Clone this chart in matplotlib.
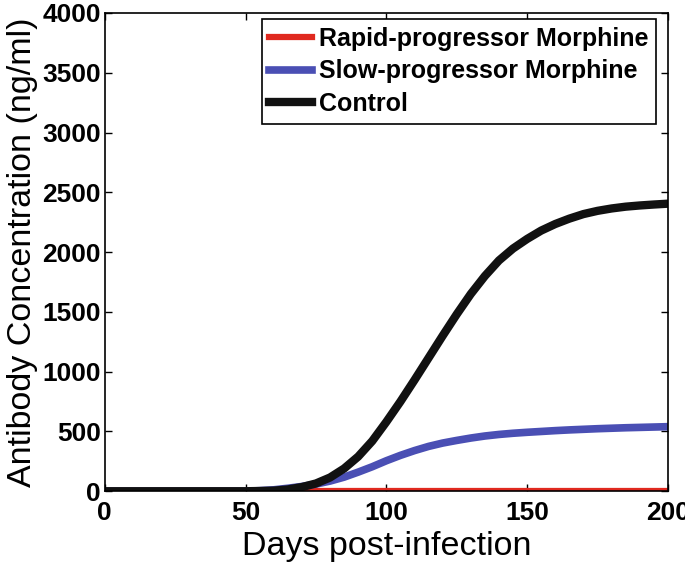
import numpy as np
import matplotlib
matplotlib.use('Agg')
import matplotlib.pyplot as plt

plt.rcParams['font.family'] = ['Liberation Sans', 'DejaVu Sans']

# Days post-infection
days = [0, 50, 55, 60, 65, 70, 75, 80, 85, 90, 95, 100, 105, 110, 115, 120, 125,
        130, 135, 140, 145, 150, 155, 160, 165, 170, 175, 180, 185, 190, 195, 200]

# antibody concentration (ng/ml)
control = [0, 0, 2, 5, 15, 35, 65, 115, 190, 290, 420, 580, 750, 930, 1115, 1300, 1480,
           1650, 1800, 1930, 2030, 2110, 2180, 2235, 2280, 2318, 2345, 2365, 2380, 2390, 2398, 2405]
slow = [0, 0, 5, 12, 25, 40, 60, 85, 118, 160, 205, 255, 300, 340, 375, 403, 425,
        445, 462, 475, 485, 493, 500, 507, 513, 518, 523, 527, 531, 534, 537, 540]
rapid = [0] * len(days)

fig = plt.figure(figsize=(6.85, 5.64), dpi=100)
ax = fig.add_axes([0.153, 0.129, 0.822, 0.848])

ax.plot(days, rapid, color='#e0291f', lw=4.5, label='Rapid-progressor Morphine')
ax.plot(days, slow, color='#4a4fb4', lw=5.5, label='Slow-progressor Morphine')
ax.plot(days, control, color='#111111', lw=6, label='Control')

ax.set_xlim(0, 200)
ax.set_ylim(0, 4000)
ax.set_xticks([0, 50, 100, 150, 200])
ax.set_yticks(np.arange(0, 4001, 500))
ax.tick_params(direction='in', top=True, right=True, length=5, width=1, pad=3)
ax.tick_params(axis='x', pad=7)
for lab in ax.get_xticklabels() + ax.get_yticklabels():
    lab.set_fontweight('bold')
    lab.set_fontsize(19)
for s in ax.spines.values():
    s.set_linewidth(1.2)

ax.set_xlabel('Days post-infection', fontsize=24.5, labelpad=4)
ax.set_ylabel('Antibody Concentration (ng/ml)', fontsize=24.5, labelpad=3)

leg = ax.legend(loc='upper right', prop={'weight': 'bold', 'size': 18},
                handlelength=1.7, handletextpad=0.3, borderpad=0.3, labelspacing=0.35,
                borderaxespad=0, fancybox=False, edgecolor='black', framealpha=1,
                bbox_to_anchor=(0.979, 0.987))
leg.get_frame().set_linewidth(1.2)

fig.savefig('out.png', dpi=100)
